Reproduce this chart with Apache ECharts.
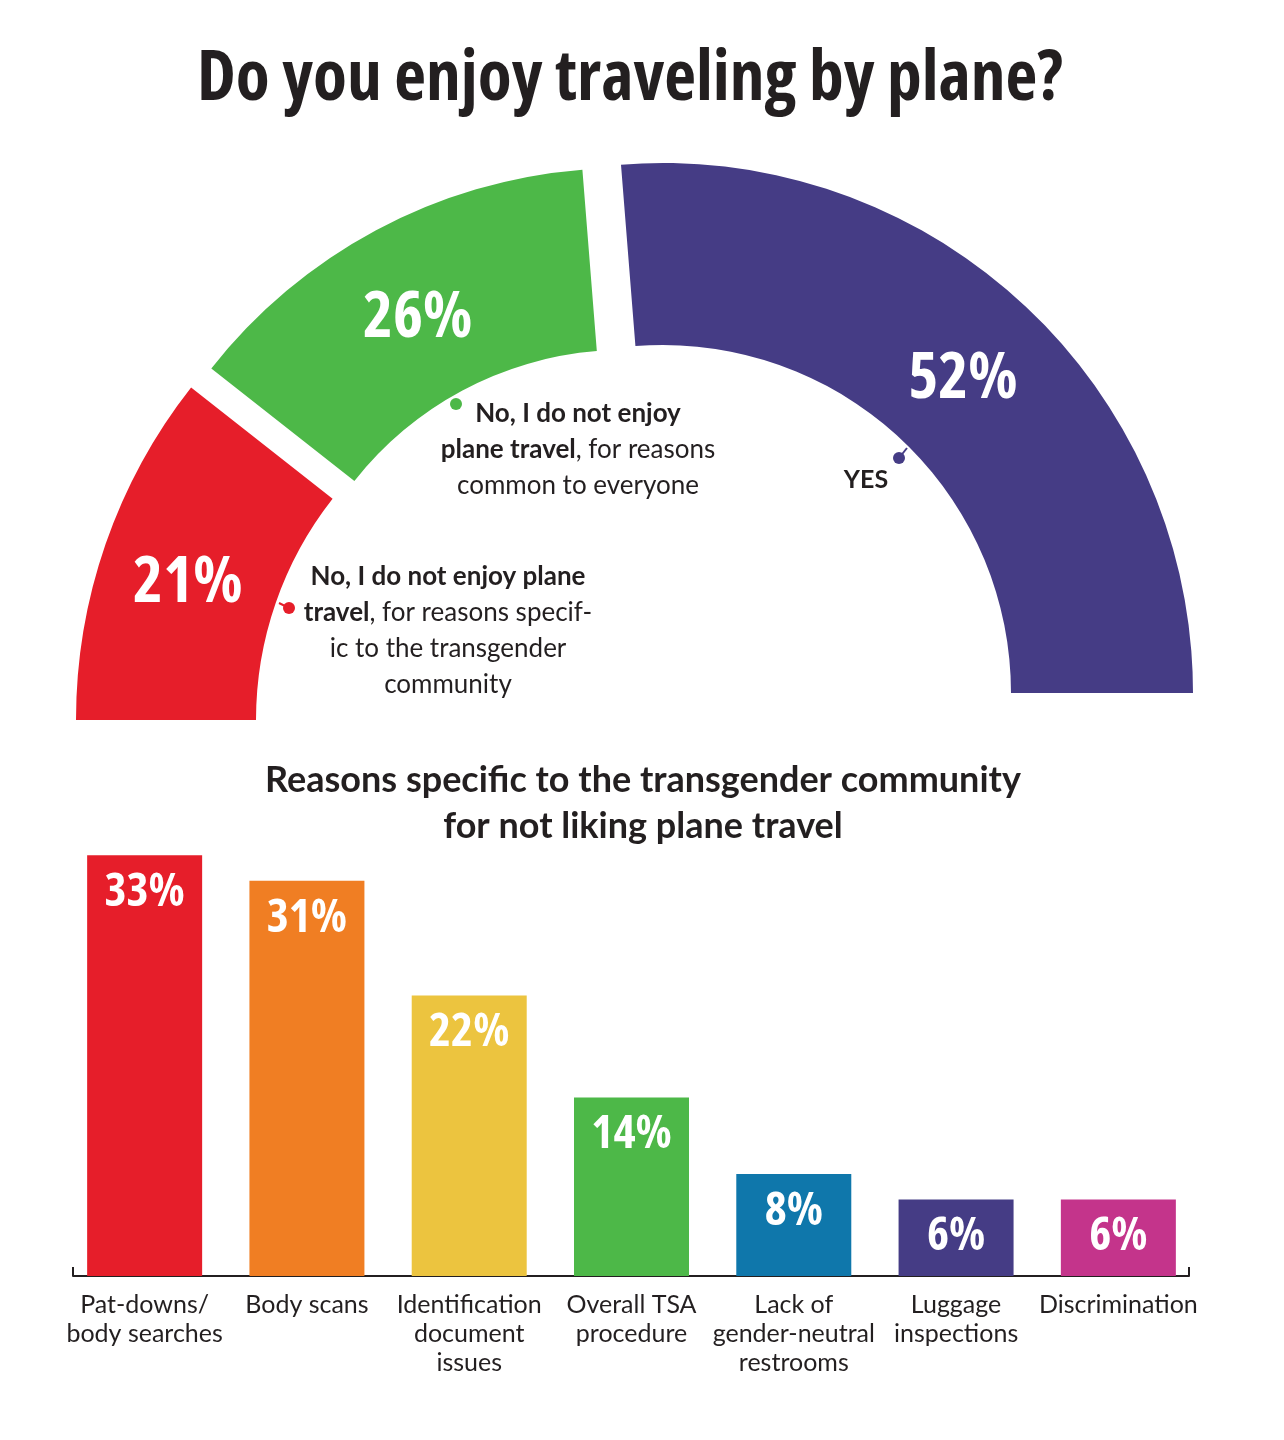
<!DOCTYPE html>
<html>
<head>
<meta charset="utf-8">
<title>Do you enjoy traveling by plane?</title>
<script src="https://cdn.jsdelivr.net/npm/echarts@6/dist/echarts.min.js"></script>
<style>
  html, body { margin: 0; padding: 0; background: #fff; }
  #chart { width: 1284px; height: 1440px; }
</style>
</head>
<body>
<div id="chart"></div>
<script>
// half donut: answers
var answerNames = ['No, specific to the transgender community', 'No, common to everyone', 'Yes']
var answerValues = [21, 26, 52]
var answerLabels = ['21%', '26%', '52%']
var answerColors = ['#e61e2a', '#4db848', '#453c85']

// bar chart: reasons
var reasonCats = [
  'Pat-downs/\nbody searches',
  'Body scans',
  'Identification\ndocument\nissues',
  'Overall TSA\nprocedure',
  'Lack of\ngender-neutral\nrestrooms',
  'Luggage\ninspections',
  'Discrimination'
]
var reasonValues = [33, 31, 22, 14, 8, 6, 6]
var reasonColors = ['#e61e2a', '#f07e23', '#ecc43f', '#4db848', '#0f77ab', '#453c85', '#c4348b']

// Open Sans is a variable font here, 'condensed' picks its narrow width
var narrow = '"Open Sans", "Roboto Condensed", sans-serif'
var human = 'Lato, "Noto Sans", sans-serif'
var ink = '#231f20'

// each segment drawn from its own slightly shifted centre (exploded look)
var segCenters = [[614, 720], [624, 693], [663, 693]]
var segRadius = [[358, 538], [343, 525], [348, 530]]

function pieSeries (k) {
  return {
    type: 'pie',
    center: segCenters[k],
    radius: segRadius[k],
    startAngle: 180,
    endAngle: 0,
    clockwise: true,
    silent: true,
    emphasis: { disabled: true },
    labelLine: { show: false },
    data: answerValues.map(function (v, i) {
      return {
        name: answerNames[i],
        value: v,
        itemStyle: { color: i === k ? answerColors[i] : 'rgba(0,0,0,0)' },
        label: {
          show: i === k,
          position: 'inside',
          // empty first line pushes the number a bit below the slice middle
          formatter: '{p| }\n{v|' + answerLabels[i] + '}',
          rich: {
            p: { fontSize: 10, lineHeight: 22 },
            v: {
              color: '#fff',
              fontFamily: narrow,
              fontStyle: 'condensed',
              fontWeight: 'bold',
              fontSize: 64
            }
          }
        }
      }
    })
  }
}

var rich = {
  b: { fontFamily: human, fontWeight: 'bold', fontSize: 26, lineHeight: 36, fill: ink, color: ink },
  r: { fontFamily: human, fontWeight: 'normal', fontSize: 26, lineHeight: 36, fill: ink, color: ink }
}

var option = {
  backgroundColor: '#fff',
  animation: false,
  grid: [
    { left: 63.5, width: 1136, top: 766, height: 510 },
    { left: 73, width: 1116, top: 766, height: 510 }
  ],
  xAxis: [
    {
      type: 'category',
      gridIndex: 0,
      data: reasonCats,
      axisLine: { show: false },
      axisTick: { show: false },
      axisLabel: {
        interval: 0,
        margin: 14,
        fontFamily: human,
        fontSize: 25,
        lineHeight: 29,
        color: ink
      }
    },
    {
      type: 'value',
      gridIndex: 1,
      min: 0,
      max: 1,
      interval: 1,
      axisLine: { show: true, lineStyle: { color: ink, width: 2 } },
      axisTick: { show: true, inside: true, length: 9, lineStyle: { color: ink, width: 2 } },
      axisLabel: { show: false },
      splitLine: { show: false }
    }
  ],
  yAxis: [
    { type: 'value', gridIndex: 0, min: 0, max: 40, show: false },
    { type: 'value', gridIndex: 1, min: 0, max: 1, show: false }
  ],
  series: [
    pieSeries(0),
    pieSeries(1),
    pieSeries(2),
    {
      type: 'bar',
      xAxisIndex: 0,
      yAxisIndex: 0,
      barWidth: 115,
      silent: true,
      data: reasonValues.map(function (v, i) {
        return { value: v, itemStyle: { color: reasonColors[i] } }
      }),
      label: {
        show: true,
        position: 'insideTop',
        distance: 14,
        formatter: '{c}%',
        color: '#fff',
        fontFamily: narrow,
        fontStyle: 'condensed',
        fontWeight: 'bold',
        fontSize: 47
      }
    },
    {
      type: 'line',
      xAxisIndex: 1,
      yAxisIndex: 1,
      data: [],
      silent: true
    }
  ],
  graphic: [
    {
      type: 'text',
      x: 630,
      y: 80,
      style: {
        text: 'Do you enjoy traveling by plane?',
        fontFamily: narrow,
        fontStyle: 'condensed',
        fontWeight: 'bold',
        fontSize: 69.5,
        fill: ink,
        align: 'center',
        verticalAlign: 'middle'
      }
    },
    {
      type: 'text',
      x: 643,
      y: 757,
      style: {
        text: 'Reasons specific to the transgender community\nfor not liking plane travel',
        fontFamily: human,
        fontWeight: 'bold',
        fontSize: 36,
        lineHeight: 46,
        fill: ink,
        align: 'center',
        verticalAlign: 'top'
      }
    },
    // red annotation
    { type: 'line', shape: { x1: 279, y1: 603, x2: 289, y2: 608 }, style: { stroke: answerColors[0], lineWidth: 2 } },
    { type: 'circle', shape: { cx: 289, cy: 608, r: 6 }, style: { fill: answerColors[0] } },
    {
      type: 'text',
      x: 448,
      y: 559,
      style: {
        text: '{b|No, I do not enjoy plane}\n{b|travel}{r|, for reasons specif-}\n{r|ic to the transgender}\n{r|community}',
        rich: rich,
        align: 'center',
        verticalAlign: 'top'
      }
    },
    // green annotation
    { type: 'circle', shape: { cx: 456, cy: 404, r: 6 }, style: { fill: answerColors[1] } },
    {
      type: 'text',
      x: 578,
      y: 396,
      style: {
        text: '{b|No, I do not enjoy}\n{b|plane travel}{r|, for reasons}\n{r|common to everyone}',
        rich: rich,
        align: 'center',
        verticalAlign: 'top'
      }
    },
    // purple annotation
    { type: 'line', shape: { x1: 899, y1: 458, x2: 907, y2: 448 }, style: { stroke: answerColors[2], lineWidth: 2 } },
    { type: 'circle', shape: { cx: 899, cy: 458, r: 6 }, style: { fill: answerColors[2] } },
    {
      type: 'text',
      x: 866,
      y: 480,
      style: {
        text: 'YES',
        fontFamily: human,
        fontWeight: 'bold',
        fontSize: 25,
        fill: ink,
        align: 'center',
        verticalAlign: 'middle'
      }
    }
  ]
}

var chart = echarts.init(document.getElementById('chart'))
chart.setOption(option)
</script>
</body>
</html>
